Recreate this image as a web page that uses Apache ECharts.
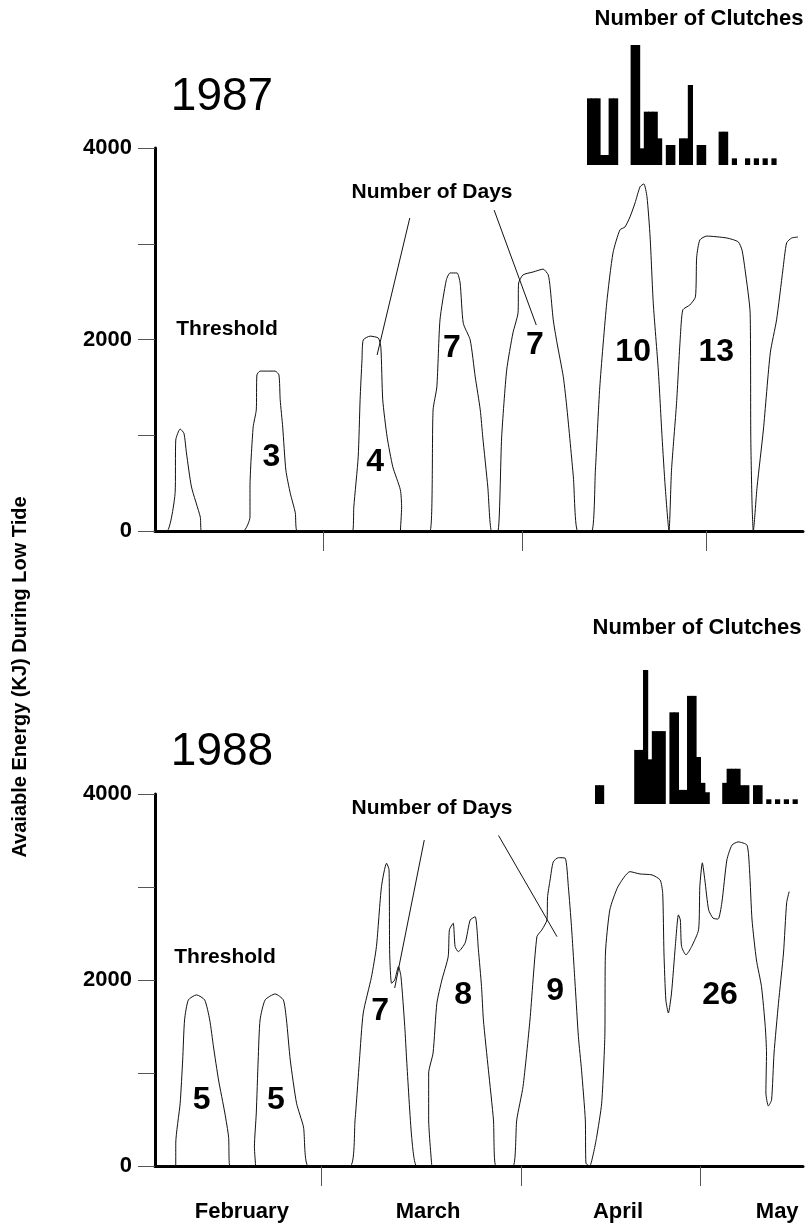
<!DOCTYPE html>
<html>
<head>
<meta charset="utf-8">
<script src="https://cdn.jsdelivr.net/npm/echarts@6/dist/echarts.min.js"></script>
<style>
html,body{margin:0;padding:0;background:#fff;}
#chart{width:809px;height:1229px;}
</style>
</head>
<body>
<div id="chart"></div>
<script>
// ---------- DATA ----------
// x = days from early February (axis start), y = available energy (kJ)
var energy1987 = [
  [0,0],[1.9,0],[3.2,400],[3.3,950],[4.0,1065],[4.6,1020],[5.0,815],[5.8,460],[7.2,145],[7.4,0],
  [14.0,0],[15.1,145],[15.1,460],[15.6,1085],[16.1,1265],[16.2,1630],[16.7,1670],[19.1,1670],[19.7,1630],[19.9,1370],[20.3,1085],[20.8,635],[21.5,395],[22.3,190],[22.6,0],
  [31.4,0],[31.6,250],[32.3,775],[32.6,1370],[32.9,1785],[33.1,1995],[34.2,2035],[35.5,2015],[35.9,1920],[36.2,1370],[36.9,980],[37.8,670],[39.0,430],[39.2,250],[39.0,0],
  [43.7,0],[44.2,1265],[44.8,1505],[45.3,2205],[46.3,2620],[46.9,2695],[48.0,2695],[48.5,2590],[49.0,2170],[50.1,1995],[50.9,1610],[51.7,1265],[52.1,980],[52.9,460],[53.5,0],
  [54.5,0],[55.1,980],[55.9,1680],[56.9,2070],[57.7,2275],[57.8,2590],[58.5,2675],[60.1,2705],[61.7,2735],[62.5,2675],[62.8,2550],[63.3,2205],[63.9,1965],[64.9,1610],[65.5,1265],[66.5,565],[67.2,0],
  [69.4,0],[70.0,635],[70.7,1505],[71.8,2380],[72.8,2905],[73.9,3145],[74.7,3175],[75.5,3280],[76.3,3425],[77.1,3595],[77.7,3625],[78.2,3490],[78.7,3070],[79.2,2380],[80.0,1680],[80.6,980],[81.1,460],[81.7,0],
  [82.1,635],[82.9,1335],[83.5,2025],[83.9,2310],[85.0,2360],[85.9,2445],[86.1,2860],[86.6,3040],[87.7,3080],[90.9,3060],[92.7,3020],[93.3,2935],[93.8,2725],[94.6,2275],[94.7,980],[94.9,290],[95.1,0],
  [95.7,460],[96.7,1055],[97.8,1860],[98.8,2205],[99.8,2725],[100.4,3010],[101.2,3060],[102.2,3070]
];
var energy1988 = [
  [0,0],[3.3,0],[3.3,245],[4.0,675],[4.4,1140],[4.7,1570],[5.3,1785],[6.6,1840],[7.9,1785],[8.7,1570],[9.3,1280],[10.1,925],[11.1,570],[11.7,310],[11.9,0],
  [16.0,0],[15.8,205],[16.1,570],[16.4,1140],[16.7,1570],[17.5,1785],[19.1,1850],[20.4,1785],[20.9,1570],[21.5,1140],[22.5,675],[23.6,420],[24.4,0],
  [31.0,0],[31.8,495],[32.5,1140],[33.1,1645],[34.4,2030],[35.2,2360],[36.0,3005],[36.8,3255],[37.2,3185],[37.3,2290],[37.6,1965],[38.1,2000],[38.7,2145],[39.1,2035],[39.7,1500],[40.0,1140],[40.8,310],[41.6,0],
  [44.0,0],[43.5,495],[43.5,1000],[44.2,1215],[44.8,1750],[45.6,2000],[46.6,2250],[46.8,2540],[47.4,2610],[47.7,2360],[48.2,2305],[49.3,2400],[50.1,2645],[50.9,2680],[51.4,2330],[51.9,1930],[52.2,1570],[53.0,1030],[53.8,495],[54.2,0],
  [56.9,0],[57.5,495],[58.5,855],[59.6,1570],[60.7,2465],[61.5,2540],[62.3,2645],[62.4,2895],[62.8,3075],[63.3,3270],[64.1,3315],[65.2,3310],[65.7,3005],[66.2,2575],[66.8,1930],[67.3,1390],[67.8,1030],[68.4,495],[68.5,30],[69.1,0],[69.7,140],[70.2,310],
  [71.0,675],[71.5,1390],[71.6,2290],[72.3,2755],[73.6,3005],[75.5,3165],[77.1,3140],[79.0,3130],[80.3,3075],[80.7,2930],[80.9,2290],[81.2,1785],[81.6,1645],[82.1,1860],[82.7,2360],[83.2,2700],[83.5,2645],[83.7,2360],[84.4,2270],[85.3,2360],[86.4,2540],[86.6,3005],[87.0,3260],[87.4,3075],[88.0,2755],[88.7,2665],[89.5,2655],[90.1,2830],[90.9,3290],[91.7,3450],[92.7,3485],[94.1,3450],[94.5,3185],[94.9,2645],[95.6,2215],[96.4,1930],[97.0,1500],[97.2,1215],[97.1,785],[97.5,645],[98.0,710],[98.4,1215],[99.1,1750],[99.9,2290],[100.4,2830],[100.8,2950]
];

// number of days above threshold per low-tide period
var dayCounts1987 = ['3','4','7','7','10','13'];
var dayCounts1988 = ['5','5','7','8','9','26'];

// number of clutches per day (inset histograms)
var clutches1987 = [10,10,10,1.5,1.5,10,10,0,0,0,18,18,2.5,8,8,8,4,0,3,3,0,4,4,12,0,3,3,0,0,0,5,5,0,1,0,0,1,0,1,0,1,0,1,0];
var clutches1988 = [4,4,0,0,0,0,0,0,0,11.5,11.5,28.5,9.5,15.5,15.5,15.5,0,19.5,19.5,3,3,23,23,10,4.5,2.5,0,0,0,4.5,7.5,7.5,7.5,4,4,0,4,4,0,1,0,1,0,1,0,1,0];

// axis ticks and labels
var yLabelValues = [0, 2000, 4000];
var monthTicks1987 = [26.7, 58.3, 87.6];
var monthTicks1988 = [26.5, 58.2, 86.6];
var monthNames = ['February', 'March', 'April', 'May'];
var monthLabelDays = [13.8, 43.4, 73.6, 98.9];

// ---------- ANNOTATION PLACEMENT (data coordinates) ----------
var dayCountPos1987 = [[18.5,776],[35.0,724],[47.2,1911],[60.4,1943],[76.0,1870],[89.2,1870]];
var dayCountPos1988 = [[7.4,710],[19.2,710],[35.8,1660],[49.0,1840],[63.6,1875],[89.8,1840]];
var leaders1987 = [[[40.5,3269],[35.3,1838]], [[53.9,3352],[60.6,2151]]];
var leaders1988 = [[[42.8,3505],[38.1,1914]], [[54.6,3554],[63.9,2466]]];

// ---------- CHART ----------
var FONT = '"Liberation Sans", Arial, Helvetica, sans-serif';
var chart = echarts.init(document.getElementById('chart'), null, {renderer: 'canvas'});

function bins(arr) { return arr.map(function (_, i) { return String(i); }); }
function mainX(grid, ticks, withLabels) {
  return {
    gridIndex: grid, type: 'value', min: 0, max: 103,
    axisLine: {show: true, onZero: false, lineStyle: {color: '#000', width: 3}},
    axisTick: {show: true, customValues: ticks, length: 20, lineStyle: {color: '#555', width: 1}},
    axisLabel: withLabels ? {
      show: true, customValues: monthLabelDays, margin: 35,
      formatter: function (v) {
        var i = monthLabelDays.indexOf(v);
        return i >= 0 ? monthNames[i] : '';
      },
      color: '#000', fontFamily: FONT, fontWeight: 'bold', fontSize: 22
    } : {show: false},
    splitLine: {show: false}
  };
}
function mainY(grid) {
  return {
    gridIndex: grid, type: 'value', min: 0, max: 4000, interval: 1000,
    axisLine: {show: true, lineStyle: {color: '#000', width: 3}},
    axisTick: {show: true, length: 17, lineStyle: {color: '#555', width: 1}},
    axisLabel: {
      show: true, customValues: yLabelValues, margin: 23,
      formatter: function (v) { return String(v); },
      color: '#000', fontFamily: FONT, fontWeight: 'bold', fontSize: 22
    },
    splitLine: {show: false}
  };
}
function leaderData(list) {
  return list.map(function (seg) { return [{coord: seg[0]}, {coord: seg[1]}]; });
}
function countLabels(names, pos, xi) {
  return {
    type: 'scatter', xAxisIndex: xi, yAxisIndex: xi, silent: true,
    symbolSize: 1, itemStyle: {color: 'transparent', opacity: 1},
    data: names.map(function (n, i) { return {name: n, value: pos[i]}; }),
    label: {show: true, position: 'inside', formatter: '{b}', color: '#000', opacity: 1,
            fontFamily: FONT, fontWeight: 'bold', fontSize: 32},
    z: 5
  };
}
function energyLine(data, xi, leaders) {
  return {
    type: 'line', xAxisIndex: xi, yAxisIndex: xi, data: data,
    showSymbol: false, symbol: 'none', smooth: 0.2,
    lineStyle: {color: '#111', width: 1},
    silent: true,
    markLine: {
      silent: true, symbol: ['none', 'none'],
      lineStyle: {color: '#111', width: 1, type: 'solid'},
      label: {show: false},
      data: leaderData(leaders)
    }
  };
}
function clutchBars(data, xi) {
  return {
    type: 'bar', xAxisIndex: xi, yAxisIndex: xi, data: data,
    barWidth: '118%',
    itemStyle: {color: '#000'}, silent: true
  };
}
function txt(text, x, y, size, weight, rot) {
  return {
    type: 'text', x: x, y: y, rotation: rot || 0, silent: true,
    style: {text: text, fill: '#000', textAlign: 'center', textVerticalAlign: 'middle',
            font: (weight || 'bold') + ' ' + size + 'px ' + FONT}
  };
}

var BIN = 4.4;
var option = {
  animation: false,
  backgroundColor: '#fff',
  grid: [
    {left: 155, top: 148, width: 648, height: 383, outerBoundsMode: 'none'},
    {left: 155, top: 794, width: 648, height: 372, outerBoundsMode: 'none'},
    {left: 587, top: 45, width: clutches1987.length * BIN, height: 120, outerBoundsMode: 'none'},
    {left: 595, top: 670, width: clutches1988.length * BIN, height: 134, outerBoundsMode: 'none'}
  ],
  xAxis: [
    mainX(0, monthTicks1987, false),
    mainX(1, monthTicks1988, true),
    {gridIndex: 2, type: 'category', data: bins(clutches1987), show: false},
    {gridIndex: 3, type: 'category', data: bins(clutches1988), show: false}
  ],
  yAxis: [
    mainY(0),
    mainY(1),
    {gridIndex: 2, type: 'value', min: 0, max: 18, show: false},
    {gridIndex: 3, type: 'value', min: 0, max: 28.5, show: false}
  ],
  series: [
    energyLine(energy1987, 0, leaders1987),
    energyLine(energy1988, 1, leaders1988),
    countLabels(dayCounts1987, dayCountPos1987, 0),
    countLabels(dayCounts1988, dayCountPos1988, 1),
    clutchBars(clutches1987, 2),
    clutchBars(clutches1988, 3)
  ],
  graphic: [
    txt('1987', 222, 97, 46, 'normal'),
    txt('1988', 222, 752, 46, 'normal'),
    txt('Number of Clutches', 699, 19, 22),
    txt('Number of Clutches', 697, 628, 22),
    txt('Threshold', 227, 329, 21),
    txt('Threshold', 225, 957, 21),
    txt('Number of Days', 432, 192, 21),
    txt('Number of Days', 432, 808, 21),
    txt('Avaiable Energy (KJ) During Low Tide', 20, 677, 20, 'bold', Math.PI / 2)
  ]
};
chart.setOption(option);
</script>
</body>
</html>
